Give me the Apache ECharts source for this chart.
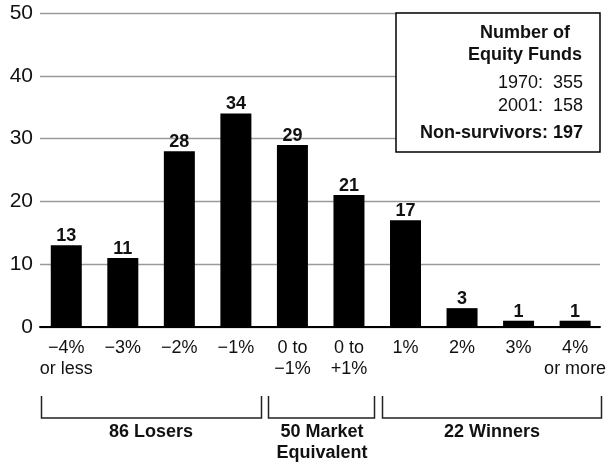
<!DOCTYPE html>
<html>
<head>
<meta charset="utf-8">
<script src="https://cdn.jsdelivr.net/npm/echarts@6/dist/echarts.min.js"></script>
<style>html,body{margin:0;padding:0;background:#fff}#c{width:609px;height:466px}</style>
</head>
<body>
<div id="c"></div>
<script>
const categories = ['\u22124%\nor less', '\u22123%', '\u22122%', '\u22121%', '0 to\n\u22121%', '0 to\n+1%', '1%', '2%', '3%', '4%\nor more'];
const fundCounts = [13, 11, 28, 34, 29, 21, 17, 3, 1, 1];
const yTicks = [0, 10, 20, 30, 40, 50];
const groupLabels = ['86 Losers', '50 Market\nEquivalent', '22 Winners'];
const boxTitle = 'Number of\nEquity Funds';
const boxLines = ['1970:  355', '2001:  158'];
const boxTotal = 'Non-survivors: 197';

const FONT = '"Liberation Sans", Arial, sans-serif';
const chart = echarts.init(document.getElementById('c'), null, {renderer: 'canvas'});
const yMin = yTicks[0], yMax = yTicks[yTicks.length - 1], yStep = yTicks[1] - yTicks[0];

const option = {
  backgroundColor: '#fff',
  animation: false,
  textStyle: {fontFamily: FONT},
  grid: [
    {left: 38, right: 3, top: 13, bottom: 139},
    {left: 40, right: 9, top: 13, bottom: 139}
  ],
  xAxis: [
    {
      type: 'category', gridIndex: 0, data: categories,
      axisLine: {show: false}, axisTick: {show: false},
      axisLabel: {fontSize: 18, color: '#111', lineHeight: 21, margin: 11, interval: 0, fontFamily: FONT},
      splitLine: {show: false}
    },
    {
      type: 'value', gridIndex: 1, min: 0, max: 1,
      axisLine: {show: true, onZero: false, lineStyle: {color: '#000', width: 2}},
      axisTick: {show: false}, axisLabel: {show: false}, splitLine: {show: false}
    }
  ],
  yAxis: [
    {
      type: 'value', gridIndex: 0, min: yMin, max: yMax, interval: yStep,
      axisLine: {show: false}, axisTick: {show: false}, axisLabel: {show: false}, splitLine: {show: false}
    },
    {
      type: 'value', gridIndex: 1, min: yMin, max: yMax, interval: yStep,
      axisLine: {show: false}, axisTick: {show: false},
      axisLabel: {fontSize: 21, color: '#111', margin: 7, fontFamily: FONT},
      splitLine: {show: true, lineStyle: {color: '#9a9a9a', width: 1.3}}
    }
  ],
  series: [{
    type: 'bar', xAxisIndex: 0, yAxisIndex: 0,
    data: fundCounts, barWidth: 31, z: 5,
    itemStyle: {color: '#000'},
    label: {show: true, position: 'top', distance: 0, fontSize: 18, fontWeight: 'bold', color: '#111', fontFamily: FONT}
  }],
  graphic: [
    {type: 'rect', z: 100, shape: {x: 396, y: 13, width: 204, height: 139},
      style: {fill: '#fff', stroke: '#000', lineWidth: 1.5}},
    {type: 'text', z: 101, x: 525, y: 44, style: {text: boxTitle, fill: '#111', align: 'center', verticalAlign: 'middle', lineHeight: 22, font: 'bold 18px ' + FONT}},
    {type: 'text', z: 101, x: 583, y: 83, style: {text: boxLines[0], fill: '#111', align: 'right', verticalAlign: 'middle', font: '18px ' + FONT}},
    {type: 'text', z: 101, x: 583, y: 106, style: {text: boxLines[1], fill: '#111', align: 'right', verticalAlign: 'middle', font: '18px ' + FONT}},
    {type: 'text', z: 101, x: 583, y: 133, style: {text: boxTotal, fill: '#111', align: 'right', verticalAlign: 'middle', font: 'bold 18px ' + FONT}},
    {type: 'polyline', z: 100, shape: {points: [[41.5, 396], [41.5, 418], [261.5, 418], [261.5, 396]]}, style: {stroke: '#222', lineWidth: 1.5, fill: null}},
    {type: 'polyline', z: 100, shape: {points: [[268.5, 396], [268.5, 418], [374.5, 418], [374.5, 396]]}, style: {stroke: '#222', lineWidth: 1.5, fill: null}},
    {type: 'polyline', z: 100, shape: {points: [[382.5, 396], [382.5, 418], [601.5, 418], [601.5, 396]]}, style: {stroke: '#222', lineWidth: 1.5, fill: null}},
    {type: 'text', z: 101, x: 151, y: 432, style: {text: groupLabels[0], fill: '#111', align: 'center', verticalAlign: 'middle', font: 'bold 18px ' + FONT}},
    {type: 'text', z: 101, x: 322, y: 442.5, style: {text: groupLabels[1], fill: '#111', align: 'center', verticalAlign: 'middle', lineHeight: 21, font: 'bold 18px ' + FONT}},
    {type: 'text', z: 101, x: 492, y: 432, style: {text: groupLabels[2], fill: '#111', align: 'center', verticalAlign: 'middle', font: 'bold 18px ' + FONT}}
  ]
};
chart.setOption(option);
</script>
</body>
</html>
